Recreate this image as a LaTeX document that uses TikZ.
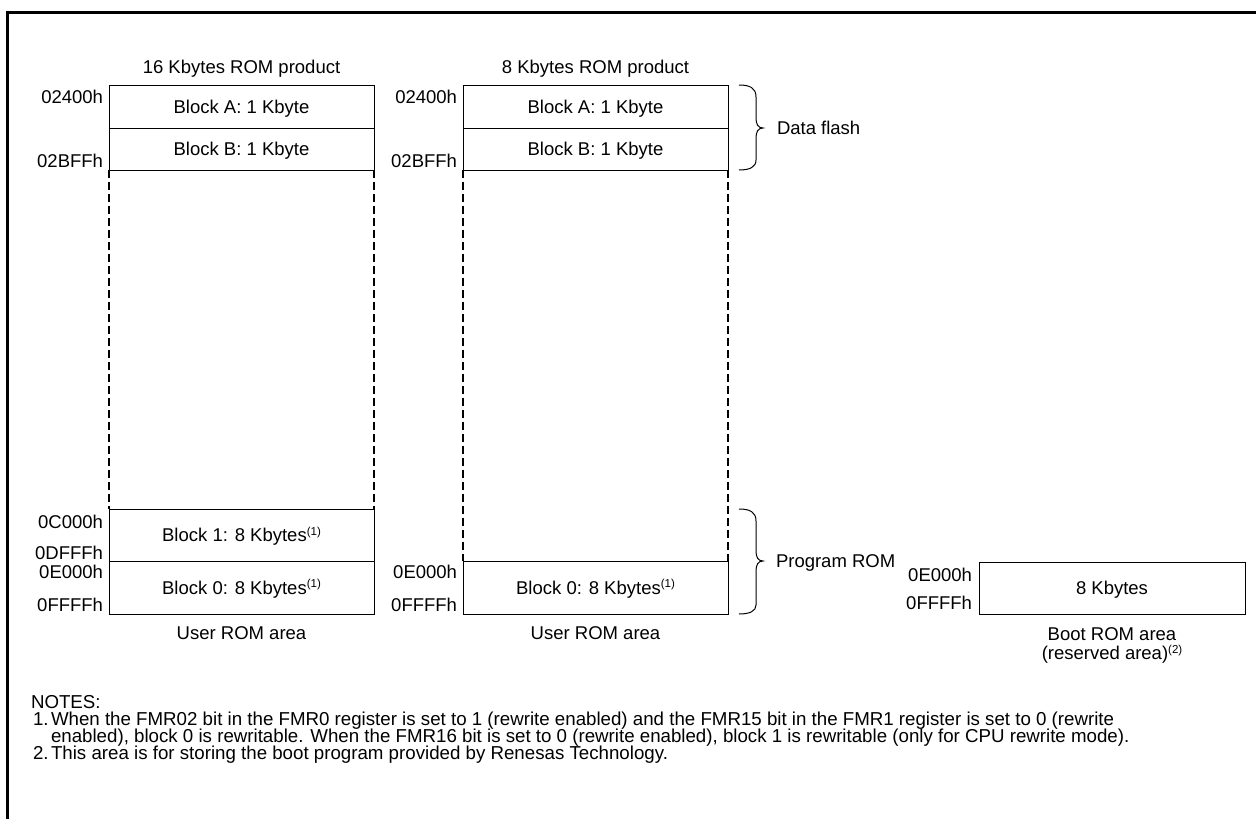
\documentclass[tikz,border=0pt]{standalone}
\usepackage{fontspec}
\setmainfont{Liberation Sans}
\newcommand\supr[1]{\raisebox{6.5pt}{\fontsize{11.5}{11.5}\selectfont #1}}
\begin{document}
\begin{tikzpicture}[x=1pt,y=-1pt,
  txt/.style={font=\fontsize{18.5}{22}\selectfont, inner sep=0pt, outer sep=0pt, text height=13.2pt, text depth=0pt},
  note/.style={txt, font=\fontsize{18.7}{22}\selectfont, anchor=west},
  blk/.style={txt, draw, line width=1pt, minimum width=265pt, anchor=north west},
  addr/.style={txt, anchor=east},
  lft/.style={txt, anchor=west},
  dsh/.style={line width=1.6pt, dash pattern=on 8pt off 4pt},
  brc/.style={line width=1pt},
  frm/.style={line width=3pt, line join=miter}
]
\useasboundingbox (0,0) rectangle (1256,819);
\draw[frm] (7.5,819) -- (7.5,12.5) -- (1256,12.5);

% ---------- 16 Kbytes ROM product ----------
\node[txt] (t16) at (241.5,67) {16 Kbytes ROM product};
\node[blk, minimum height=43pt] (A16) at (109,85) {Block A: 1 Kbyte};
\node[blk, minimum height=42pt] (B16) at (109,128) {Block B: 1 Kbyte};
\node[blk, minimum height=52pt] (K16) at (109,509) {Block 1: 8 Kbytes\supr{(1)}};
\node[blk, minimum height=53pt] (Z16) at (109,561) {Block 0: 8 Kbytes\supr{(1)}};
\draw[dsh] (B16.south west) -- (K16.north west);
\draw[dsh] (B16.south east) -- (K16.north east);
\node[txt] (u16) at (241.5,633) {User ROM area};
\node[addr] (a16a) at (103,97) {02400h};
\node[addr] (a16b) at (103,161) {02BFFh};
\node[addr] (a16c) at (103,522) {0C000h};
\node[addr] (a16d) at (103,553) {0DFFFh};
\node[addr] (a16e) at (103,572) {0E000h};
\node[addr] (a16f) at (103,605) {0FFFFh};

% ---------- 8 Kbytes ROM product ----------
\node[txt] (t8) at (595.5,67) {8 Kbytes ROM product};
\node[blk, minimum height=43pt] (A8) at (463,85) {Block A: 1 Kbyte};
\node[blk, minimum height=42pt] (B8) at (463,128) {Block B: 1 Kbyte};
\node[blk, minimum height=53pt] (Z8) at (463,561) {Block 0: 8 Kbytes\supr{(1)}};
\draw[dsh] (B8.south west) -- (Z8.north west);
\draw[dsh] (B8.south east) -- (Z8.north east);
\node[txt] (u8) at (595.5,633) {User ROM area};
\node[addr] (a8a) at (457,97) {02400h};
\node[addr] (a8b) at (457,161) {02BFFh};
\node[addr] (a8e) at (457,572) {0E000h};
\node[addr] (a8f) at (457,605) {0FFFFh};

% ---------- braces ----------
\draw[brc] (739,85) .. controls (750,85) and (756,88) .. (756,97) -- (756,118)
  .. controls (756,124) and (758,128) .. (763,128)
  .. controls (758,128) and (756,132) .. (756,138) -- (756,160)
  .. controls (756,167) and (750,170) .. (739,170);
\node[lft] (df) at (777,128) {Data flash};
\draw[brc] (739,509) .. controls (750,509) and (756,512) .. (756,521) -- (756,551)
  .. controls (756,557) and (758,561) .. (763,561)
  .. controls (758,561) and (756,565) .. (756,571) -- (756,605)
  .. controls (756,611) and (750,614) .. (739,614);
\node[lft] (pr) at (776,561) {Program ROM};

% ---------- Boot ROM ----------
\node[blk, minimum width=266pt, minimum height=52pt] (boot) at (979,562) {8 Kbytes};
\node[addr] (bte) at (972,575) {0E000h};
\node[addr] (btf) at (972,603) {0FFFFh};
\node[txt] (bt1) at (1112,634) {Boot ROM area};
\node[txt] (bt2) at (1112,653) {(reserved area)\supr{(2)}};

% ---------- notes ----------
\node[note] (n0) at (31,702) {NOTES:};
\node[note] (n1) at (33,719) {1.};
\node[note] (n1a) at (51,719) {When the FMR02 bit in the FMR0 register is set to 1 (rewrite enabled) and the FMR15 bit in the FMR1 register is set to 0 (rewrite};
\node[note] (n1b) at (51,736) {enabled), block 0 is rewritable. When the FMR16 bit is set to 0 (rewrite enabled), block 1 is rewritable (only for CPU rewrite mode).};
\node[note] (n2) at (33,753) {2.};
\node[note] (n2a) at (51,753) {This area is for storing the boot program provided by Renesas Technology.};
\end{tikzpicture}
\end{document}
